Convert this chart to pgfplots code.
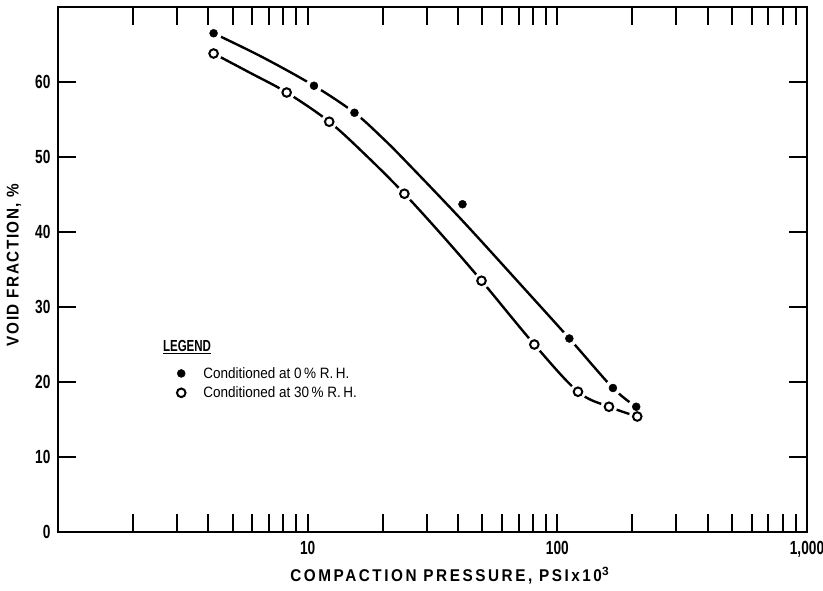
\documentclass[border=0pt]{standalone}
\usepackage{fontspec}
\usepackage{pgfplots}
\pgfplotsset{compat=1.18}
\setmainfont{Liberation Sans}
\newfontfamily\condfont{Liberation Sans}[FakeStretch=0.72]
\newfontfamily\legfont{Liberation Sans}[FakeStretch=0.9]
\newfontfamily\labfont{Liberation Sans}[FakeStretch=0.9,LetterSpace=15]
\newfontfamily\ylabfont{Liberation Sans}[FakeStretch=0.9,LetterSpace=9]

% Void fraction vs compaction pressure (PSI x 10^3)
\pgfplotstableread{
p vf
4.2   66.5
10.6  59.5
15.4  55.9
41.7  43.7
111.7 25.8
167   19.2
207   16.7
}\dryRH
\pgfplotstableread{
p vf
4.2   63.8
8.24  58.6
12.2  54.7
24.4  45.1
49.7  33.5
80.9  25.0
121   18.7
161   16.7
209   15.4
}\wetRH
% faired curves
\pgfplotstableread{
p vf
4.2   66.5
6.6   63.3
10.6  59.5
15.4  55.9
20.0  52.5
25.1  49.2
41.7  41.5
70.8  33.1
111.7 25.8
167   19.2
207   16.7
}\dryfit
\pgfplotstableread{
p vf
4.2   63.8
5.9   61.2
8.24  58.6
12.2  54.7
17.4  50.0
24.4  45.1
34.7  39.5
49.7  33.5
80.9  25.0
121   18.7
161   16.7
209   15.4
}\wetfit

\begin{document}
\begin{tikzpicture}
\useasboundingbox (-58pt,-58pt) rectangle (765pt,532pt);
\begin{axis}[
  scale only axis,
  width=749pt, height=525pt,
  xmode=log, xmin=1, xmax=1000,
  ymin=0, ymax=70,
  axis line style={line width=2.6pt},
  tick align=inside, tickpos=both,
  major tick length=18pt, minor tick length=18pt,
  every tick/.style={line width=2pt, black},
  xtick={1,10,100,1000},
  xticklabels={,10,100,{1,000}},
  minor xtick={2,3,4,5,6,7,8,9,20,30,40,50,60,70,80,90,200,300,400,500,600,700,800,900},
  ytick={0,10,20,30,40,50,60},
  yticklabels={0,10,20,30,40,50,60},
  ticklabel pos=left,
  tick label style={font=\condfont\bfseries\fontsize{19}{19}\selectfont},
  xticklabel style={yshift=-6pt},
  yticklabel style={xshift=-4pt},
  xlabel={\labfont\bfseries\fontsize{17}{17}\selectfont COMPACTION PRESSURE, PSIx10$^{\mathbf 3}$},
  ylabel={\ylabfont\bfseries\fontsize{17}{17}\selectfont VOID FRACTION, \%},
  every axis x label/.style={at={(axis description cs:0.523,-0.095)}, anchor=base},
  every axis y label/.style={at={(axis description cs:-0.0587,0.509)}, anchor=center, rotate=90},
  legend style={draw=none, fill=none, at={(axis description cs:0.156,0.318)}, anchor=north west,
    row sep=3pt, inner sep=0pt},
  legend image code/.code={\draw[#1] plot coordinates {(6pt,0pt)}; \path (0pt,-5pt) (26pt,5pt);},
  legend cell align=left,
]
% faired curves
\addplot[forget plot, line width=2.4pt, smooth, tension=0.55] table[x=p,y=vf]{\dryfit};
\addplot[forget plot, line width=2.4pt, smooth, tension=0.55] table[x=p,y=vf]{\wetfit};
% breaks in the curves around each point
\addplot[forget plot, only marks, mark=*, mark size=8pt, mark options={fill=white, draw=white}] table[x=p,y=vf]{\dryRH};
\addplot[forget plot, only marks, mark=*, mark size=8pt, mark options={fill=white, draw=white}] table[x=p,y=vf]{\wetRH};
% data points
\addplot[only marks, mark=*, mark size=4pt, mark options={fill=black, draw=black}] table[x=p,y=vf]{\dryRH};
\addlegendentry{\legfont\fontsize{15}{15}\selectfont Conditioned at 0\,\% R.\,H.}
\addplot[only marks, mark=o, mark size=4.3pt, mark options={line width=2pt, draw=black, fill=white}] table[x=p,y=vf]{\wetRH};
\addlegendentry{\legfont\fontsize{15}{15}\selectfont Conditioned at 30\,\% R.\,H.}
\node[anchor=base west, font=\condfont\bfseries\fontsize{16}{16}\selectfont, inner sep=0pt]
  at (axis description cs:0.140,0.343) {\underline{LEGEND}};
\end{axis}
\end{tikzpicture}
\end{document}
